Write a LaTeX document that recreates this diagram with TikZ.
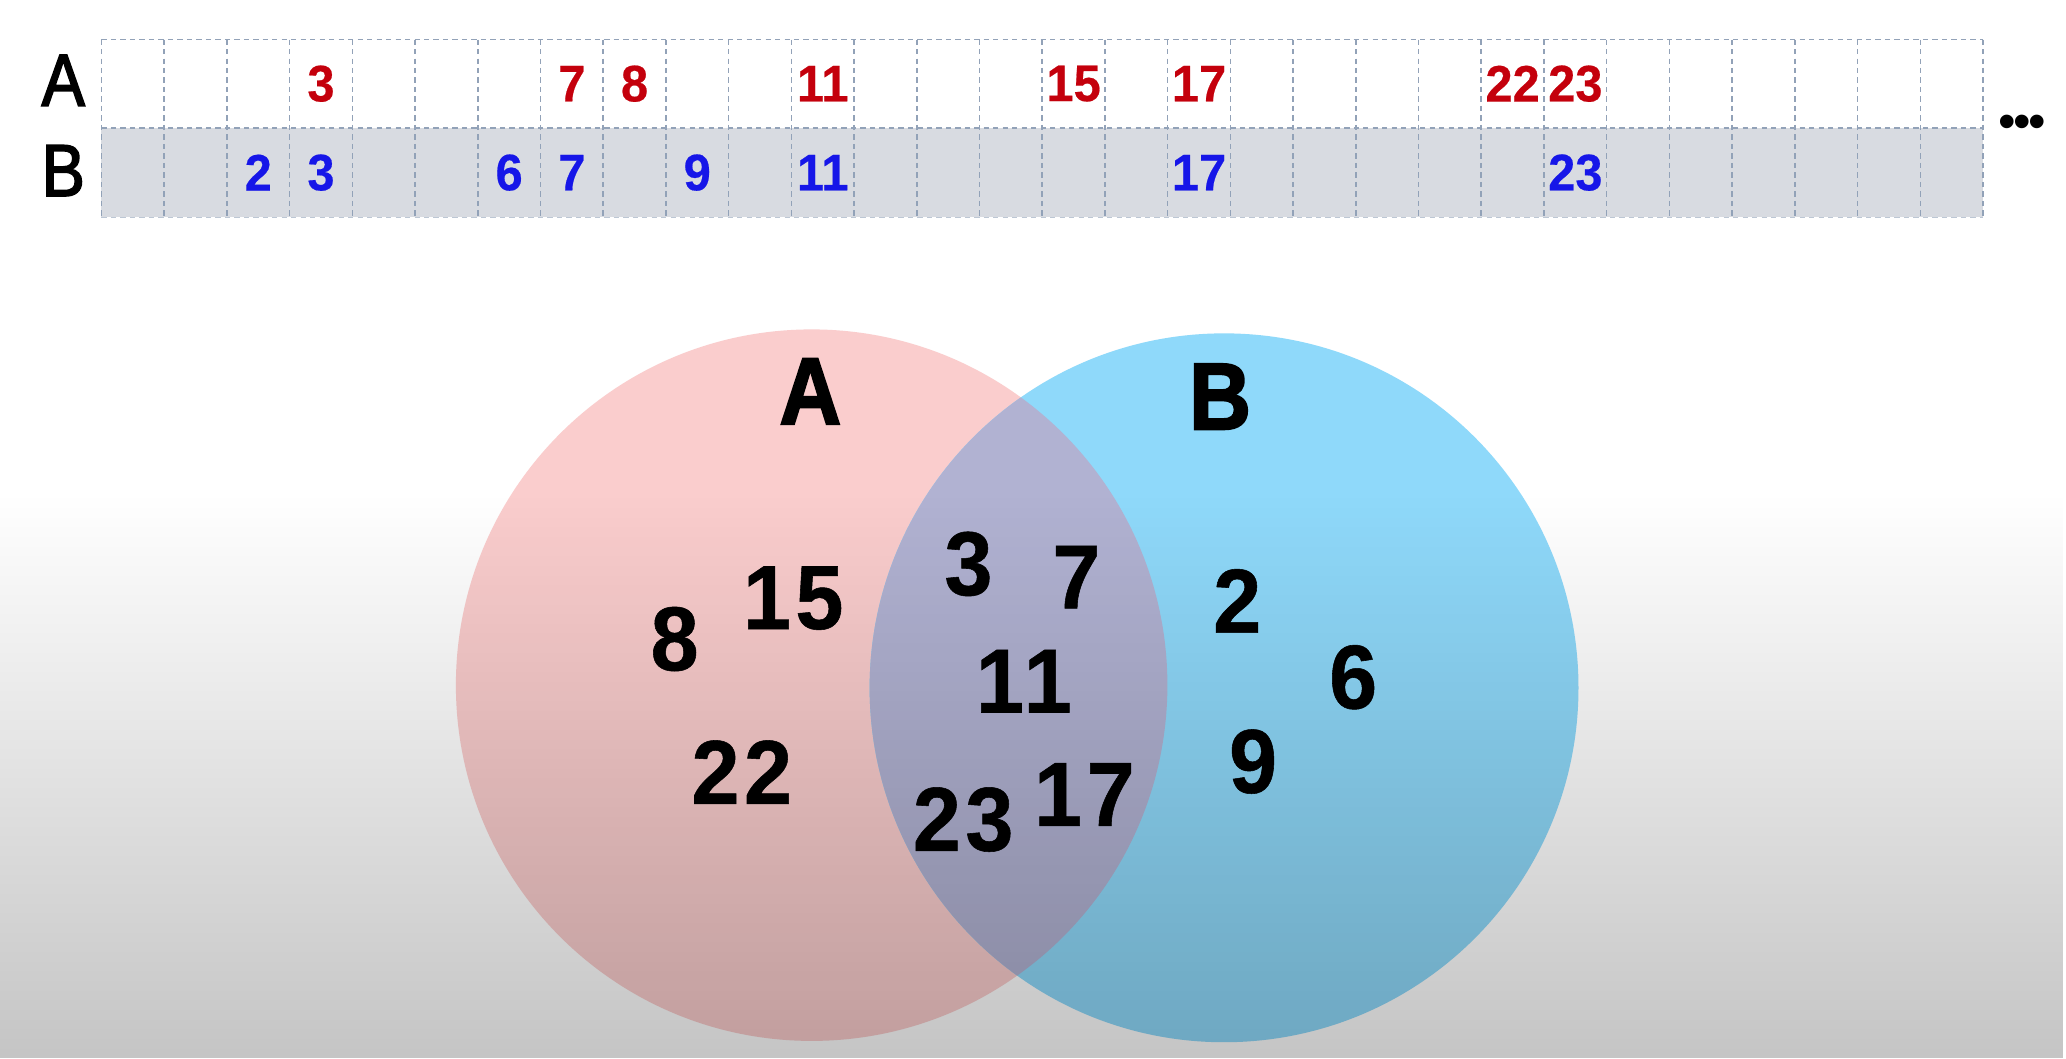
\documentclass[tikz,border=0pt]{standalone}
\usepackage{fontspec}
\setmainfont{Liberation Sans}
\newfontfamily\heavyfont{Liberation Sans}[BoldFeatures={FakeBold=2.2,FakeStretch=0.9}]
\newfontfamily\numfont{Liberation Sans}[BoldFeatures={FakeBold=0.4,FakeStretch=0.95}]
\newfontfamily\vennfont{Liberation Sans}[BoldFeatures={FakeBold=0.6,FakeStretch=0.95,LetterSpace=5}]
\newfontfamily\rowfont{Liberation Sans}[FakeBold=2.2,FakeStretch=0.88]
\usetikzlibrary{fadings}
\definecolor{numred}{RGB}{196,0,12}
\definecolor{numblue}{RGB}{22,22,232}
\definecolor{rowgrey}{RGB}{216,219,225}
\definecolor{gridline}{RGB}{146,162,184}
\definecolor{setA}{RGB}{250,205,205}
\definecolor{setB}{RGB}{143,217,250}
\definecolor{setAB}{RGB}{177,178,210}
\tikzfading[name=darken, top color=transparent!100, bottom color=transparent!77]
\begin{document}
\begin{tikzpicture}[x=0.5pt,y=-0.5pt,
  rowlabel/.style={font=\rowfont\fontsize{28}{30}\selectfont, inner sep=0pt},
  anum/.style={font=\numfont\fontsize{19.5}{21}\selectfont\bfseries, text=numred, inner sep=0pt},
  bnum/.style={font=\numfont\fontsize{19.5}{21}\selectfont\bfseries, text=numblue, inner sep=0pt},
  setlabel/.style={font=\heavyfont\fontsize{36}{38}\selectfont\bfseries, inner sep=0pt},
  vnum/.style={font=\vennfont\fontsize{34.5}{36}\selectfont\bfseries, inner sep=0pt},
  gline/.style={draw=gridline, line width=0.6pt, dash pattern=on 2pt off 1.6pt}]
\useasboundingbox (0,0) rectangle (1568,803);
\fill[white] (0,0) rectangle (1568,803);
% number line table
\fill[rowgrey] (77,97) rectangle (1505,165);
\foreach \i in {0,...,30} \draw[gline] ({77+\i*47.6},30) -- ({77+\i*47.6},165);
\draw[gline] (77,30) -- (1505,30);
\draw[gline] (77,97) -- (1505,97);
\draw[gline, draw opacity=0.6] (77,165) -- (1505,165);
\node[rowlabel] (labA) at (48,61) {A};
\node[rowlabel] (labB) at (48,129.5) {B};
\foreach \n in {3,7,8,11,15,17,22,23}
  \node[anum] (a\n) at ({77+(\n+0.5)*47.6},63.5) {\n};
\foreach \n in {2,3,6,7,9,11,17,23}
  \node[bnum] (b\n) at ({77+(\n+0.5)*47.6},131) {\n};
\node[font=\fontsize{19}{21}\selectfont, inner sep=0pt] (dots) at (1535,96.5) {•\kern-0.9pt•\kern-0.9pt•};
% Venn diagram
\fill[setA] (616,520) circle (270);
\fill[setB] (929,522) circle (269);
\begin{scope}
  \clip (616,520) circle (270);
  \fill[setAB] (929,522) circle (269);
\end{scope}
% darkening toward the bottom
\fill[black, path fading=darken] (0,375) rectangle (1568,803);
\node[setlabel] (vA) at (615,297) {A};
\node[setlabel] (vB) at (926,301) {B};
\node[vnum] (v8) at (512,485) {8};
\node[vnum] (v15) at (602,454) {15};
\node[vnum] (v22) at (563,586) {22};
\node[vnum] (v3) at (735,428) {3};
\node[vnum] (v7) at (817,438) {7};
\node[vnum] (v11) at (777,517) {11};
\node[vnum] (v23) at (731,622) {23};
\node[vnum] (v17) at (823,603) {17};
\node[vnum] (v2) at (939,456) {2};
\node[vnum] (v6) at (1027,514) {6};
\node[vnum] (v9) at (951,578) {9};
\end{tikzpicture}
\end{document}
